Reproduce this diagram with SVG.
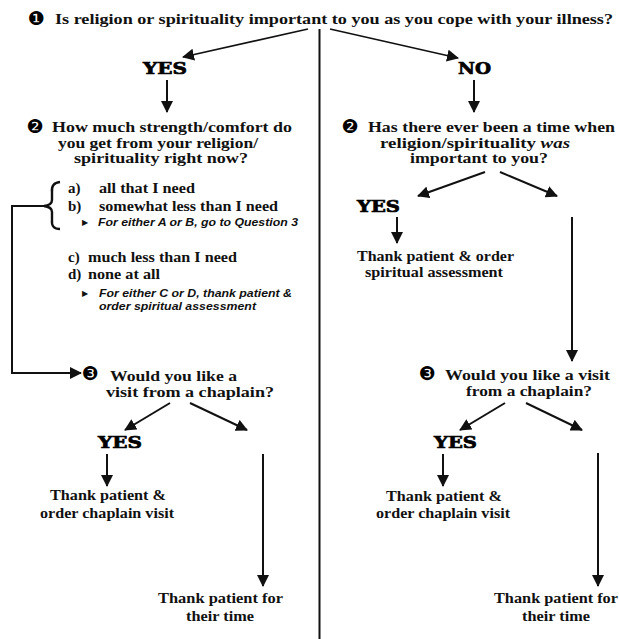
<svg xmlns="http://www.w3.org/2000/svg" width="619" height="639" viewBox="0 0 619 639">
<style>
.t{font-family:"Liberation Serif","Times New Roman",serif;font-weight:bold;font-size:15px;fill:#111}
.y{font-family:"DejaVu Serif","Liberation Serif",serif;font-weight:bold;font-size:17px;fill:#000;stroke:#000;stroke-width:0.7}
.n{font-family:"Liberation Sans",Arial,sans-serif;font-weight:bold;font-style:italic;font-size:10.5px;fill:#111}
.b{font-family:"DejaVu Sans",sans-serif;font-size:19px;fill:#000;text-anchor:middle}
.tri{font-family:"DejaVu Sans",sans-serif;font-size:8px;fill:#111}
.c line,.c path{stroke:#111;stroke-width:2;fill:none}
.c .thin{stroke-width:1.6}
</style>
<defs>
<marker id="ah" viewBox="0 0 12 12" refX="11" refY="6" markerWidth="12" markerHeight="12" markerUnits="userSpaceOnUse" orient="auto">
<path d="M0,0 L12,6 L0,12 z" fill="#111"/>
</marker>
</defs>
<rect width="619" height="639" fill="#fff"/>

<g id="q1">
<text class="b" x="36" y="25">❶</text>
<text class="t" x="55" y="24" textLength="558" lengthAdjust="spacingAndGlyphs">Is religion or spirituality important to you as you cope with your illness?</text>
</g>
<g id="yes1"><text class="y" x="143" y="74" textLength="44" lengthAdjust="spacingAndGlyphs">YES</text></g>
<g id="no1"><text class="y" x="458" y="74" textLength="33" lengthAdjust="spacingAndGlyphs">NO</text></g>

<g id="q2left">
<text class="b" x="35" y="133">❷</text>
<text class="t" x="52" y="132" textLength="240" lengthAdjust="spacingAndGlyphs">How much strength/comfort do</text>
<text class="t" x="58" y="148" textLength="200" lengthAdjust="spacingAndGlyphs">you get from your religion/</text>
<text class="t" x="74" y="163" textLength="174" lengthAdjust="spacingAndGlyphs">spirituality right now?</text>
</g>
<g id="optionsAB">
<path d="M60,182 Q51,183 52,192 L52,200 Q52,205 44,206 Q52,207 52,212 L52,220 Q51,229 60,229" fill="none" stroke="#111" stroke-width="2.4"/>
<text class="t" x="68" y="193">a)</text>
<text class="t" x="99" y="193" textLength="96" lengthAdjust="spacingAndGlyphs">all that I need</text>
<text class="t" x="68" y="211">b)</text>
<text class="t" x="99" y="211" textLength="179" lengthAdjust="spacingAndGlyphs">somewhat less than I need</text>
<text class="tri" x="82" y="225">▶</text>
<text class="n" x="98" y="226" textLength="200" lengthAdjust="spacingAndGlyphs">For either A or B, go to Question 3</text>
</g>
<g id="optionsCD">
<text class="t" x="68" y="262">c)</text>
<text class="t" x="88" y="262" textLength="149" lengthAdjust="spacingAndGlyphs">much less than I need</text>
<text class="t" x="68" y="279">d)</text>
<text class="t" x="88" y="279" textLength="72" lengthAdjust="spacingAndGlyphs">none at all</text>
<text class="tri" x="82" y="296">▶</text>
<text class="n" x="99" y="297" textLength="193" lengthAdjust="spacingAndGlyphs">For either C or D, thank patient &amp;</text>
<text class="n" x="99" y="310" textLength="157" lengthAdjust="spacingAndGlyphs">order spiritual assessment</text>
</g>

<g id="q2right">
<text class="b" x="350" y="133">❷</text>
<text class="t" x="368" y="132" textLength="247" lengthAdjust="spacingAndGlyphs">Has there ever been a time when</text>
<text class="t" x="380" y="148" textLength="190" lengthAdjust="spacingAndGlyphs">religion/spirituality <tspan font-style="italic">was</tspan></text>
<text class="t" x="410" y="163" textLength="138" lengthAdjust="spacingAndGlyphs">important to you?</text>
</g>
<g id="yes2r"><text class="y" x="357" y="212" textLength="43" lengthAdjust="spacingAndGlyphs">YES</text></g>
<g id="assess">
<text class="t" x="357" y="261" textLength="157" lengthAdjust="spacingAndGlyphs">Thank patient &amp; order</text>
<text class="t" x="365" y="277" textLength="138" lengthAdjust="spacingAndGlyphs">spiritual assessment</text>
</g>

<g id="q3left">
<text class="b" x="90" y="380">❸</text>
<text class="t" x="110" y="381" textLength="127" lengthAdjust="spacingAndGlyphs">Would you like a</text>
<text class="t" x="106" y="397" textLength="168" lengthAdjust="spacingAndGlyphs">visit from a chaplain?</text>
</g>
<g id="yes3l"><text class="y" x="98" y="448" textLength="44" lengthAdjust="spacingAndGlyphs">YES</text></g>
<g id="visitl">
<text class="t" x="50" y="500" textLength="116" lengthAdjust="spacingAndGlyphs">Thank patient &amp;</text>
<text class="t" x="40" y="518" textLength="134" lengthAdjust="spacingAndGlyphs">order chaplain visit</text>
</g>
<g id="timel">
<text class="t" x="158" y="603" textLength="125" lengthAdjust="spacingAndGlyphs">Thank patient for</text>
<text class="t" x="186" y="621" textLength="68" lengthAdjust="spacingAndGlyphs">their time</text>
</g>

<g id="q3right">
<text class="b" x="427" y="380">❸</text>
<text class="t" x="445" y="380" textLength="165" lengthAdjust="spacingAndGlyphs">Would you like a visit</text>
<text class="t" x="466" y="396" textLength="126" lengthAdjust="spacingAndGlyphs">from a chaplain?</text>
</g>
<g id="yes3r"><text class="y" x="434" y="448" textLength="43" lengthAdjust="spacingAndGlyphs">YES</text></g>
<g id="visitr">
<text class="t" x="386" y="501" textLength="116" lengthAdjust="spacingAndGlyphs">Thank patient &amp;</text>
<text class="t" x="376" y="518" textLength="134" lengthAdjust="spacingAndGlyphs">order chaplain visit</text>
</g>
<g id="timer">
<text class="t" x="494" y="603" textLength="124" lengthAdjust="spacingAndGlyphs">Thank patient for</text>
<text class="t" x="522" y="621" textLength="68" lengthAdjust="spacingAndGlyphs">their time</text>
</g>

<g id="connectors" class="c">
<line x1="319.5" y1="29" x2="319.5" y2="639"/>
<line class="thin" x1="308" y1="29" x2="183" y2="57" marker-end="url(#ah)"/>
<line class="thin" x1="330" y1="29" x2="458" y2="58" marker-end="url(#ah)"/>
<line x1="167" y1="80" x2="167" y2="112" marker-end="url(#ah)"/>
<line x1="474" y1="80" x2="474" y2="112" marker-end="url(#ah)"/>
<path d="M44,206 H12 V373 H81" marker-end="url(#ah)"/>
<line x1="485" y1="172" x2="418" y2="196" marker-end="url(#ah)"/>
<line x1="500" y1="172" x2="557" y2="196" marker-end="url(#ah)"/>
<line x1="397" y1="217" x2="397" y2="243" marker-end="url(#ah)"/>
<line x1="572" y1="217" x2="572" y2="361" marker-end="url(#ah)"/>
<line x1="170" y1="403" x2="125" y2="430" marker-end="url(#ah)"/>
<line x1="190" y1="403" x2="247" y2="430" marker-end="url(#ah)"/>
<line x1="107" y1="454" x2="107" y2="486" marker-end="url(#ah)"/>
<line x1="263" y1="454" x2="263" y2="586" marker-end="url(#ah)"/>
<line x1="505" y1="403" x2="460" y2="430" marker-end="url(#ah)"/>
<line x1="526" y1="403" x2="582" y2="430" marker-end="url(#ah)"/>
<line x1="443" y1="454" x2="443" y2="486" marker-end="url(#ah)"/>
<line x1="598" y1="453" x2="598" y2="586" marker-end="url(#ah)"/>
</g>
</svg>
